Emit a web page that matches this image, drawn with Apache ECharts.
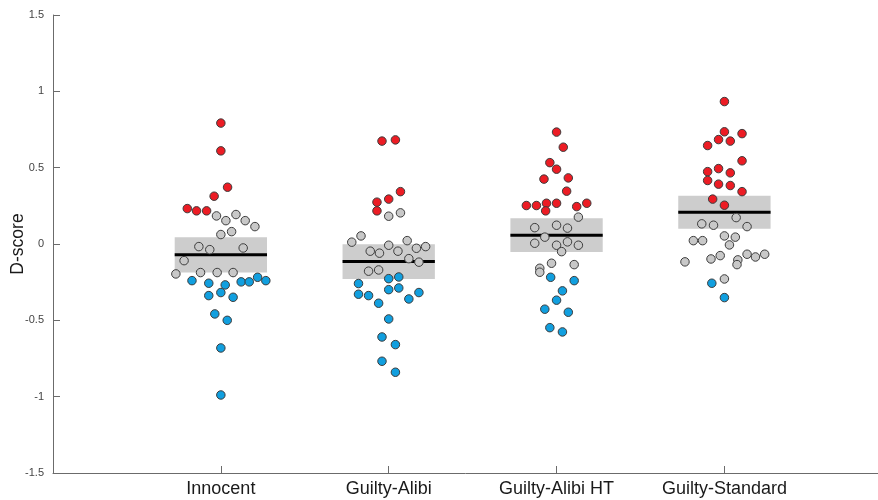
<!DOCTYPE html>
<html>
<head>
<meta charset="utf-8">
<title>D-score by condition</title>
<script src="https://cdn.jsdelivr.net/npm/echarts@6/dist/echarts.min.js"></script>
<style>
  html, body { margin: 0; padding: 0; background: #ffffff; }
  #chart { width: 878px; height: 500px; }
</style>
</head>
<body>
<div id="chart"></div>
<script>
// Conditions along the x axis
const categories = ['Innocent', 'Guilty-Alibi', 'Guilty-Alibi HT', 'Guilty-Standard'];
const yTicks = [-1.5, -1, -0.5, 0, 0.5, 1, 1.5];
const yTitle = 'D-score';

// Group mean D-score and half-height of the shaded band
const groupMean = [-0.071, -0.115, 0.058, 0.208];
const groupBand = [0.115, 0.114, 0.110, 0.108];

// Individual participants: [horizontal jitter, D-score], one list per condition
const innocentHigh = [[0, 0.792], [0, 0.61], [0.04, 0.372], [-0.04, 0.313], [-0.2, 0.232], [-0.145, 0.217], [-0.085, 0.217]];
const innocentMid = [[-0.026, 0.184], [0.03, 0.153], [0.09, 0.193], [0.145, 0.153], [0.203, 0.114], [0.064, 0.081], [0, 0.062],
  [-0.131, -0.017], [-0.066, -0.037], [0.133, -0.026], [-0.219, -0.109], [-0.268, -0.196], [-0.121, -0.187], [-0.022, -0.187], [0.073, -0.187]];
const innocentLow = [[-0.172, -0.24], [-0.072, -0.257], [0.026, -0.268], [0.121, -0.248], [0.169, -0.248], [0.219, -0.218], [0.268, -0.24],
  [-0.072, -0.338], [0, -0.318], [0.073, -0.349], [-0.036, -0.458], [0.038, -0.5], [0, -0.681], [0, -0.989]];

const alibiHigh = [[-0.04, 0.674], [0.04, 0.682], [0.07, 0.343], [-0.07, 0.274], [0, 0.294], [-0.07, 0.217]];
const alibiMid = [[0, 0.182], [0.07, 0.204], [-0.22, 0.012], [-0.165, 0.053], [-0.11, -0.047], [-0.055, -0.06], [0, -0.008], [0.055, -0.047],
  [0.11, 0.022], [0.165, -0.028], [0.22, -0.017], [0.12, -0.096], [0.18, -0.119], [-0.12, -0.178], [-0.06, -0.17]];
const alibiLow = [[0, -0.227], [0.06, -0.216], [-0.18, -0.259], [0, -0.299], [0.06, -0.288], [-0.18, -0.329], [-0.12, -0.338], [-0.06, -0.388],
  [0.12, -0.36], [0.18, -0.318], [0, -0.491], [-0.04, -0.609], [0.04, -0.659], [-0.04, -0.768], [0.04, -0.84]];

const alibiHtHigh = [[0, 0.733], [0.04, 0.634], [-0.04, 0.533], [0, 0.49], [-0.075, 0.425], [0.07, 0.433], [0.06, 0.346], [-0.18, 0.252],
  [-0.12, 0.252], [-0.06, 0.267], [0, 0.267], [-0.065, 0.217], [0.12, 0.245], [0.18, 0.267]];
const alibiHtMid = [[0.13, 0.176], [-0.13, 0.107], [0, 0.123], [0.065, 0.104], [-0.07, 0.045], [-0.13, 0.005], [0, -0.008], [0.065, 0.014],
  [0.03, -0.05], [0.13, -0.008], [-0.03, -0.126], [0.105, -0.135], [-0.1, -0.159], [-0.1, -0.185]];
const alibiHtLow = [[-0.035, -0.218], [0.105, -0.24], [0.035, -0.307], [0, -0.368], [-0.07, -0.427], [0.07, -0.447], [-0.04, -0.548], [0.035, -0.576]];

const standardHigh = [[0, 0.933], [0, 0.735], [0.105, 0.723], [-0.035, 0.684], [0.035, 0.674], [-0.1, 0.645], [0.105, 0.545], [-0.1, 0.474],
  [-0.035, 0.494], [0.035, 0.466], [-0.1, 0.416], [-0.035, 0.392], [0.035, 0.383], [0.105, 0.343], [-0.07, 0.294], [0, 0.254]];
const standardMid = [[0.07, 0.173], [-0.135, 0.132], [-0.065, 0.123], [0.135, 0.114], [-0.185, 0.022], [-0.13, 0.022], [0, 0.053], [0.065, 0.045],
  [0.03, -0.006], [-0.235, -0.117], [-0.08, -0.098], [-0.025, -0.076], [0.08, -0.104], [0.075, -0.135], [0.135, -0.067], [0.185, -0.085],
  [0.24, -0.067], [0, -0.229]];
const standardLow = [[-0.075, -0.257], [0, -0.351]];

const highByGroup = [innocentHigh, alibiHigh, alibiHtHigh, standardHigh];
const midByGroup = [innocentMid, alibiMid, alibiHtMid, standardMid];
const lowByGroup = [innocentLow, alibiLow, alibiHtLow, standardLow];

// Place each participant at its condition position (1..4) plus jitter
function toPoints(groups) {
  const out = [];
  groups.forEach((list, gi) => {
    list.forEach(p => out.push([gi + 1 + p[0], p[1]]));
  });
  return out;
}

const BAND_HALF_WIDTH = 0.275;
const AXIS_COLOR = '#6b6b6b';
const FONT = 'Liberation Sans, Arial, sans-serif';

const pointStyle = (fill) => ({
  color: fill,
  borderColor: '#3c3c3c',
  borderWidth: 1,
  opacity: 1
});

const chart = echarts.init(document.getElementById('chart'), null, { renderer: 'canvas' });

chart.setOption({
  animation: false,
  backgroundColor: '#ffffff',
  grid: { left: 53, right: 0, top: 15, bottom: 27, containLabel: false, outerBoundsMode: 'none' },
  // Vertical axis title, rotated to read bottom-to-top
  graphic: [{
    type: 'text',
    x: 18,
    y: 244,
    rotation: Math.PI / 2,
    style: {
      text: yTitle,
      fill: '#1a1a1a',
      font: '17.5px ' + FONT,
      textAlign: 'center',
      textVerticalAlign: 'middle'
    }
  }],
  xAxis: {
    type: 'value',
    min: 0,
    max: 4.915,
    interval: 1,
    splitLine: { show: false },
    axisLine: { show: true, onZero: false, lineStyle: { color: AXIS_COLOR, width: 1 } },
    axisTick: { show: true, inside: true, length: 7, lineStyle: { color: AXIS_COLOR }, customValues: [1, 2, 3, 4] },
    axisLabel: {
      customValues: [1, 2, 3, 4],
      formatter: (v) => categories[Math.round(v) - 1] || '',
      color: '#1a1a1a',
      fontFamily: FONT,
      fontSize: 18,
      margin: 7
    }
  },
  yAxis: {
    type: 'value',
    min: yTicks[0],
    max: yTicks[yTicks.length - 1],
    interval: 0.5,
    splitLine: { show: false },
    axisLine: { show: true, onZero: false, lineStyle: { color: AXIS_COLOR, width: 1 } },
    axisTick: { show: true, inside: true, length: 7, lineStyle: { color: AXIS_COLOR } },
    axisLabel: {
      color: '#444444',
      fontFamily: FONT,
      fontSize: 11,
      margin: 9,
      formatter: (v) => String(Math.round(v * 10) / 10)
    }
  },
  series: [
    {
      // Shaded band around each group mean, with the mean drawn as a black bar
      type: 'custom',
      z: 1,
      data: categories.map((c, i) => [i + 1, groupMean[i], groupBand[i]]),
      renderItem: (params, api) => {
        const x = api.value(0), m = api.value(1), h = api.value(2);
        const tl = api.coord([x - BAND_HALF_WIDTH, m + h]);
        const br = api.coord([x + BAND_HALF_WIDTH, m - h]);
        const ml = api.coord([x - BAND_HALF_WIDTH, m]);
        const mr = api.coord([x + BAND_HALF_WIDTH, m]);
        return {
          type: 'group',
          children: [
            { type: 'rect', shape: { x: tl[0], y: tl[1], width: br[0] - tl[0], height: br[1] - tl[1] },
              style: { fill: '#cdcdcd' } },
            { type: 'line', shape: { x1: ml[0], y1: ml[1], x2: mr[0], y2: mr[1] },
              style: { stroke: '#000000', lineWidth: 3 } }
          ]
        };
      }
    },
    {
      type: 'scatter', z: 3, symbol: 'circle', symbolSize: 8.5,
      itemStyle: pointStyle('#c8c8c8'),
      data: toPoints(midByGroup)
    },
    {
      type: 'scatter', z: 3, symbol: 'circle', symbolSize: 8.5,
      itemStyle: pointStyle('#ec1c24'),
      data: toPoints(highByGroup)
    },
    {
      type: 'scatter', z: 3, symbol: 'circle', symbolSize: 8.5,
      itemStyle: pointStyle('#119fdf'),
      data: toPoints(lowByGroup)
    }
  ]
});
</script>
</body>
</html>
